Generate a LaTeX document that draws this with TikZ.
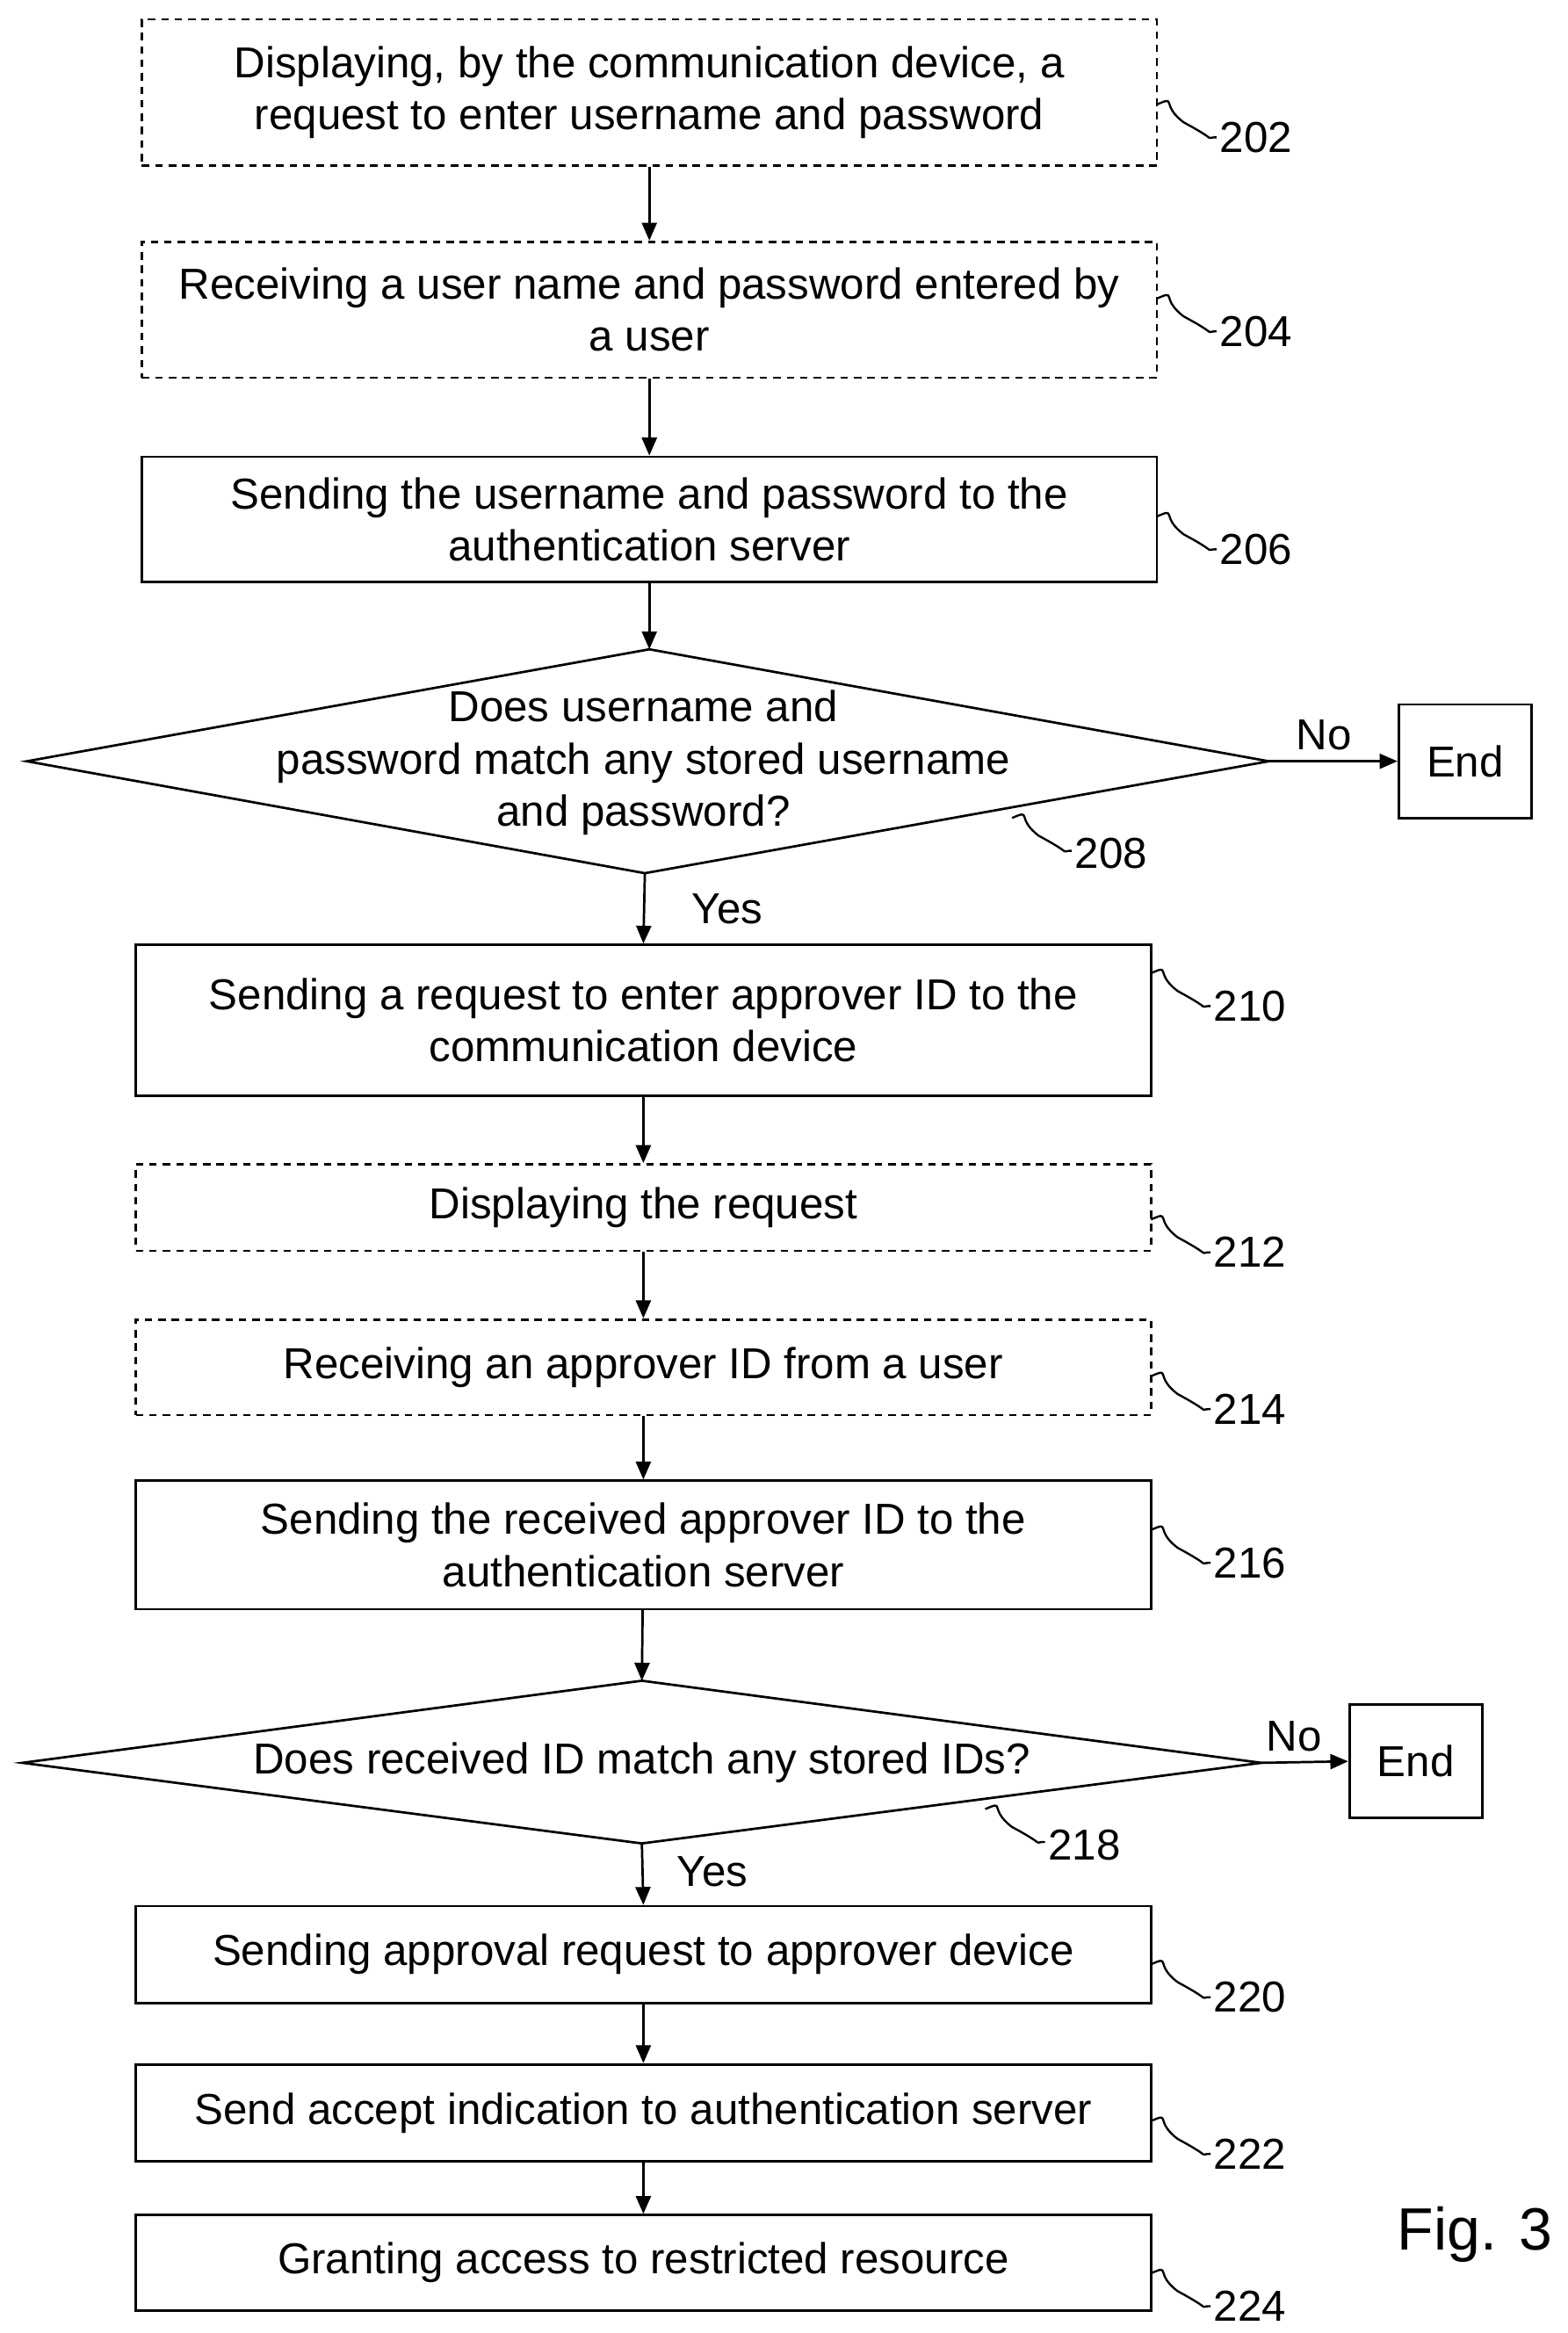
\documentclass[tikz,border=0pt]{standalone}
\usepackage{fontspec}
\setmainfont{Liberation Sans}
\usetikzlibrary{arrows.meta}
\begin{document}
\begin{tikzpicture}[x=1pt,y=-1pt,
  every node/.style={font=\fontsize{29}{35}\selectfont, align=center},
  box/.style={draw, line width=1.6pt, minimum width=680pt, inner sep=0pt},
  dbox/.style={box, dash pattern=on 5pt off 4pt},
  arr/.style={line width=1.6pt, -{Triangle[length=12pt,width=10pt]}},
  sq/.style={line width=1.4pt},
  lab/.style={anchor=west, inner sep=0pt}]
\useasboundingbox (0,0) rectangle (1050,1563);
\node[dbox, minimum height=98pt] (b202) at (435,62) {Displaying, by the communication device, a\\request to enter username and password};
\node[dbox, minimum height=91pt] (b204) at (435,207.5) {Receiving a user name and password entered by\\a user};
\node[box, minimum height=84pt] (b206) at (435,348) {Sending the username and password to the\\authentication server};
\coordinate (d1t) at (435,435); \coordinate (d1b) at (432,585);
\coordinate (d1l) at (18,510); \coordinate (d1r) at (850,510);
\draw[line width=1.6pt] (d1t)--(d1r)--(d1b)--(d1l)--cycle;
\node (t208) at (431,511) {Does username and\\password match any stored username\\and password?};
\node[box, minimum width=89pt, minimum height=76pt] (e1) at (981.5,510) {End};
\node[box, minimum height=101pt] (b210) at (431,683.5) {Sending a request to enter approver ID to the\\communication device};
\node[dbox, minimum height=58pt] (b212) at (431,809) {Displaying the request};
\node[dbox, minimum height=64pt] (b214) at (431,916) {Receiving an approver ID from a user};
\node[box, minimum height=86pt] (b216) at (431,1035) {Sending the received approver ID to the\\authentication server};
\coordinate (d2t) at (430,1126); \coordinate (d2b) at (430,1235);
\coordinate (d2l) at (15,1181); \coordinate (d2r) at (845,1181);
\draw[line width=1.6pt] (d2t)--(d2r)--(d2b)--(d2l)--cycle;
\node (t218) at (430,1181) {Does received ID match any stored IDs?};
\node[box, minimum width=89pt, minimum height=76pt] (e2) at (948.5,1180) {End};
\node[box, minimum height=65pt] (b220) at (431,1309.5) {Sending approval request to approver device};
\node[box, minimum height=65pt] (b222) at (431,1415.5) {Send accept indication to authentication server};
\node[box, minimum height=64pt] (b224) at (431,1516) {Granting access to restricted resource};
\draw[arr] (b202) -- (b204);
\draw[arr] (b204) -- (b206);
\draw[arr] (b206) -- (d1t);
\draw[arr] (d1b) -- (b210.north);
\draw[arr] (d1r) -- (e1.west);
\draw[arr] (b210) -- (b212);
\draw[arr] (b212) -- (b214);
\draw[arr] (b214) -- (b216);
\draw[arr] (b216) -- (d2t);
\draw[arr] (d2b) -- (b220.north);
\draw[arr] (d2r) -- (e2.west);
\draw[arr] (b220) -- (b222);
\draw[arr] (b222) -- (b224);
\node[anchor=south] (no1) at (887,506) {No};
\node[anchor=west] (yes1) at (460,609) {Yes};
\node[anchor=south] (no2) at (867,1177) {No};
\node[anchor=west] (yes2) at (450,1254) {Yes};
% reference numbers
\foreach \n/\x/\y in {202/775/70,204/775/200,206/775/346,210/771/652,212/771/817,214/771/922,216/771/1025,220/771/1316,222/771/1421,224/771/1523}{
  \coordinate (s\n) at (\x,\y);
  \draw[sq] (s\n) .. controls +(14,-6) and +(-16,-12) .. +(18,12) .. controls +(26,14) and +(-10,0) .. +(40,22);
  \node[lab] (l\n) at (\x+42,\y+22) {\n};
}
\foreach \n/\x/\y in {208/678/548,218/660/1212}{
  \coordinate (s\n) at (\x,\y);
  \draw[sq] (s\n) .. controls +(14,-6) and +(-16,-12) .. +(18,12) .. controls +(26,14) and +(-10,0) .. +(40,22);
  \node[lab] (l\n) at (\x+42,\y+24) {\n};
}
\node[font=\fontsize{40}{48}\selectfont] (fig) at (988,1497) {Fig. 3};
\end{tikzpicture}
\end{document}
